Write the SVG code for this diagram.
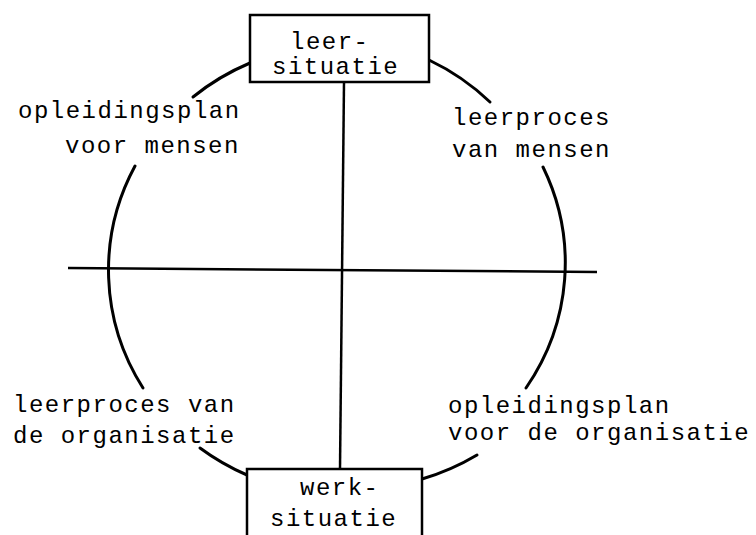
<svg xmlns="http://www.w3.org/2000/svg" width="756" height="535" viewBox="0 0 756 535">
<style>
.bg{fill:#ffffff}
.arc{fill:none;stroke:#000;stroke-width:3;stroke-linecap:round}
.ax{fill:none;stroke:#000;stroke-width:2.5}
.box{fill:#fff;stroke:#000;stroke-width:2.5}
text{font-family:"Liberation Mono","Courier New",monospace;font-size:24px;letter-spacing:1.5px;fill:#000}
</style>
<rect class="bg" x="0" y="0" width="756" height="535"/>
<g id="connectors">
<path class="ax" d="M68,268 L597,272"/>
<path class="ax" d="M344,82 L340,469"/>
<path class="arc" d="M193,97 A233,225 0 0 1 250,63"/>
<path class="arc" d="M143,388 A233,225 0 0 1 135,166"/>
<path class="arc" d="M247,475 A233,225 0 0 1 200,448"/>
<path class="arc" d="M477,455 A233,225 0 0 1 422,479"/>
<path class="arc" d="M543,167 A233,225 0 0 1 526,388"/>
<path class="arc" d="M429,60 A233,225 0 0 1 490,102"/>
</g>
<g id="leersituatie">
<rect class="box" x="250" y="15" width="179" height="67"/>
<text x="290" y="49">leer-</text>
<text x="272" y="74">situatie</text>
</g>
<g id="werksituatie">
<rect class="box" x="247" y="469" width="175" height="80"/>
<text x="300" y="495">werk-</text>
<text x="270" y="526">situatie</text>
</g>
<g id="opleidingsplan-mensen">
<text x="18" y="118">opleidingsplan</text>
<text x="65" y="153">voor mensen</text>
</g>
<g id="leerproces-mensen">
<text x="452" y="125">leerproces</text>
<text x="452" y="157">van mensen</text>
</g>
<g id="leerproces-organisatie">
<text x="13" y="412">leerproces van</text>
<text x="13" y="443">de organisatie</text>
</g>
<g id="opleidingsplan-organisatie">
<text x="448" y="413">opleidingsplan</text>
<text x="448" y="440">voor de organisatie</text>
</g>
</svg>
